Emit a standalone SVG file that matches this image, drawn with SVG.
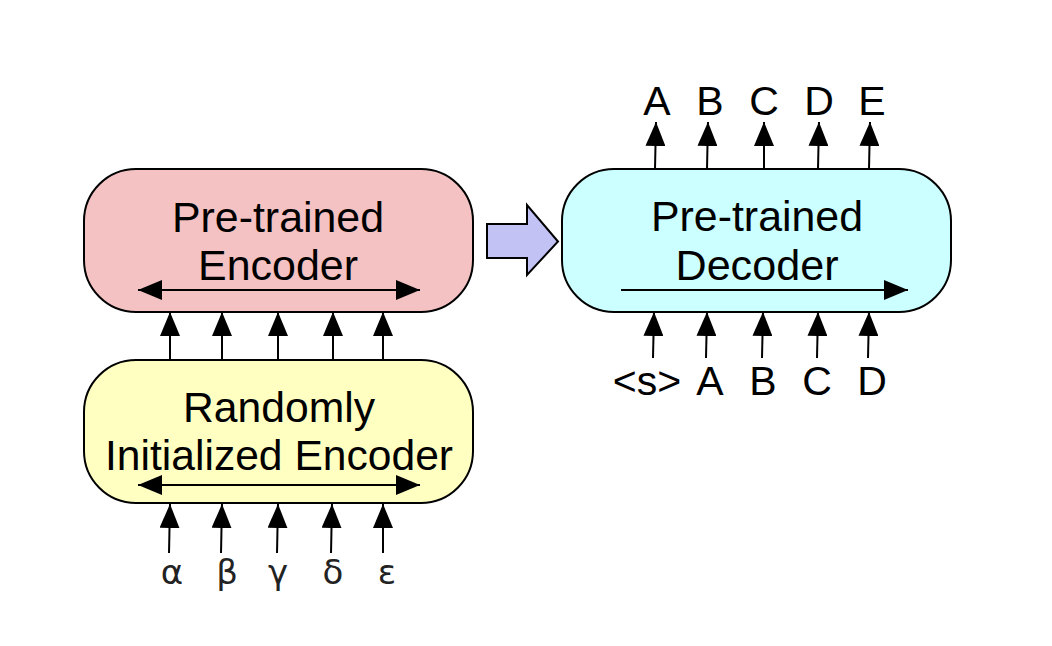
<svg xmlns="http://www.w3.org/2000/svg" width="1052" height="646" viewBox="0 0 1052 646">
<style>
.box{stroke:#000;stroke-width:2}
.t{font-family:"Liberation Sans",Arial,sans-serif;font-size:42px;fill:#000;text-anchor:middle}
.l{font-family:"Liberation Sans",Arial,sans-serif;font-size:41px;fill:#000;text-anchor:middle}
.g{font-family:"DejaVu Sans","Liberation Sans",sans-serif;font-size:34px;fill:#222;text-anchor:middle}
.ln{stroke:#000;stroke-width:2;fill:none}
</style>
<defs>
<marker id="ah" viewBox="0 0 24 20" refX="24" refY="10" markerWidth="24" markerHeight="20" markerUnits="userSpaceOnUse" orient="auto-start-reverse">
<path d="M0,0 L24,10 L0,20 Z" fill="#000"/>
</marker>
</defs>
<rect width="1052" height="646" fill="#fff"/>
<g id="encoder">
<rect class="box" x="84" y="169" width="389" height="143" rx="52" fill="#F4C2C2"/>
<text class="t" x="278" y="231.5" textLength="212" lengthAdjust="spacingAndGlyphs">Pre-trained</text>
<text class="t" x="278" y="280" textLength="160" lengthAdjust="spacingAndGlyphs">Encoder</text>
</g>
<g id="random-encoder">
<rect class="box" x="84" y="360" width="389" height="143" rx="52" fill="#FFFFC2"/>
<text class="t" x="279" y="421.5" textLength="192" lengthAdjust="spacingAndGlyphs">Randomly</text>
<text class="t" x="279" y="470" textLength="348" lengthAdjust="spacingAndGlyphs">Initialized Encoder</text>
</g>
<g id="decoder">
<rect class="box" x="562" y="169" width="389" height="143" rx="52" fill="#CCFFFF"/>
<text class="t" x="757" y="230.5" textLength="212" lengthAdjust="spacingAndGlyphs">Pre-trained</text>
<text class="t" x="757" y="280" textLength="163" lengthAdjust="spacingAndGlyphs">Decoder</text>
</g>
<g id="transfer-arrow">
<path d="M487,224 L527,224 L527,205 L558,241.5 L527,275 L527,258 L487,258 Z" fill="#C2C2F5" stroke="#000" stroke-width="2" stroke-linejoin="miter"/>
</g>
<g id="connectors">
<line class="ln" x1="138" y1="290" x2="420" y2="290" marker-start="url(#ah)" marker-end="url(#ah)"/>
<line class="ln" x1="138" y1="485" x2="420" y2="485" marker-start="url(#ah)" marker-end="url(#ah)"/>
<line class="ln" x1="621" y1="290" x2="908" y2="290" marker-end="url(#ah)"/>
<line class="ln" x1="170" y1="360" x2="170" y2="312" marker-end="url(#ah)"/>
<line class="ln" x1="222" y1="360" x2="222" y2="312" marker-end="url(#ah)"/>
<line class="ln" x1="278" y1="360" x2="278" y2="312" marker-end="url(#ah)"/>
<line class="ln" x1="333" y1="360" x2="333" y2="312" marker-end="url(#ah)"/>
<line class="ln" x1="383" y1="360" x2="383" y2="312" marker-end="url(#ah)"/>
<line class="ln" x1="169" y1="553" x2="170" y2="504" marker-end="url(#ah)"/>
<line class="ln" x1="221" y1="553" x2="222" y2="504" marker-end="url(#ah)"/>
<line class="ln" x1="277" y1="553" x2="278" y2="504" marker-end="url(#ah)"/>
<line class="ln" x1="331" y1="553" x2="332" y2="504" marker-end="url(#ah)"/>
<line class="ln" x1="383" y1="553" x2="383" y2="504" marker-end="url(#ah)"/>
<line class="ln" x1="655" y1="169" x2="656" y2="122" marker-end="url(#ah)"/>
<line class="ln" x1="707" y1="169" x2="708" y2="122" marker-end="url(#ah)"/>
<line class="ln" x1="764" y1="169" x2="764" y2="122" marker-end="url(#ah)"/>
<line class="ln" x1="818" y1="169" x2="819" y2="122" marker-end="url(#ah)"/>
<line class="ln" x1="869" y1="169" x2="870" y2="122" marker-end="url(#ah)"/>
<line class="ln" x1="653" y1="358" x2="654" y2="312" marker-end="url(#ah)"/>
<line class="ln" x1="706" y1="358" x2="707" y2="312" marker-end="url(#ah)"/>
<line class="ln" x1="762" y1="358" x2="763" y2="312" marker-end="url(#ah)"/>
<line class="ln" x1="817" y1="358" x2="818" y2="312" marker-end="url(#ah)"/>
<line class="ln" x1="868" y1="358" x2="869" y2="312" marker-end="url(#ah)"/>
</g>
<g id="labels">
<text class="g" x="172" y="584">α</text>
<text class="g" x="227" y="584">β</text>
<text class="g" x="278" y="584">γ</text>
<text class="g" x="333" y="584">δ</text>
<text class="g" x="387" y="584">ε</text>
<text class="l" x="657" y="115">A</text>
<text class="l" x="710" y="115">B</text>
<text class="l" x="764" y="115">C</text>
<text class="l" x="819" y="115">D</text>
<text class="l" x="872" y="115">E</text>
<text class="l" x="647" y="395">&lt;s&gt;</text>
<text class="l" x="710" y="395">A</text>
<text class="l" x="763" y="395">B</text>
<text class="l" x="817" y="395">C</text>
<text class="l" x="872" y="395">D</text>
</g>
</svg>
